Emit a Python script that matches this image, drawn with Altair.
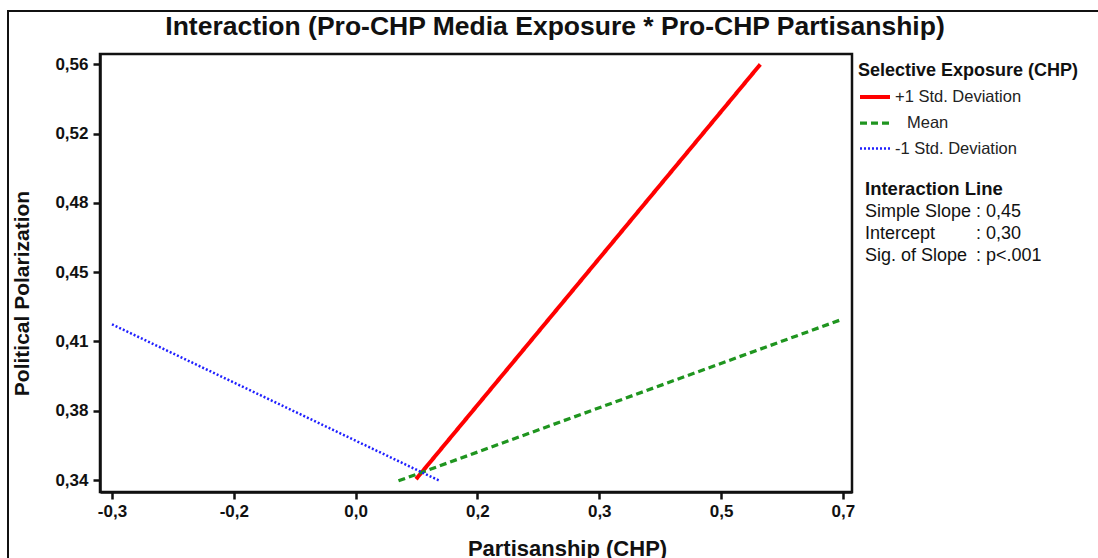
import altair as alt
import pandas as pd

# ---- data ----
series = ["+1 Std. Deviation", "Mean", "-1 Std. Deviation"]
x_start = [0.116, 0.092, -0.300]
x_end = [0.587, 0.700, 0.149]
y_start = [0.3405, 0.3396, 0.4224]
y_end = [0.5599, 0.4252, 0.3395]

x_tick_vals = [-0.3 + k / 6 for k in range(7)]
x_tick_labels = ["-0,3", "-0,2", "0,0", "0,2", "0,3", "0,5", "0,7"]
y_tick_vals = [0.34 + k * 0.22 / 6 for k in range(7)]
y_tick_labels = ["0,34", "0,38", "0,41", "0,45", "0,48", "0,52", "0,56"]

info_keys = ["Simple Slope", "Intercept", "Sig. of Slope"]
info_vals = [": 0,45", ": 0,30", ": p<.001"]

colors = ["#ff0000", "#1f951f", "#2020ff"]
dashes = [[1, 0], [7, 4], [2, 2]]
widths = [4, 2.5, 2.5]

FONT = "Liberation Sans"
W, H = 752, 438


def label_expr(vals, labels):
    expr = "'" + labels[-1] + "'"
    for i in range(len(vals) - 2, -1, -1):
        mid = (vals[i] + vals[i + 1]) / 2
        expr = f"datum.value < {mid} ? '{labels[i]}' : ({expr})"
    return expr


rows = []
for s, x0, x1, y0, y1 in zip(series, x_start, x_end, y_start, y_end):
    rows.append({"series": s, "x": x0, "y": y0})
    rows.append({"series": s, "x": x1, "y": y1})
df = pd.DataFrame(rows)

legend_title = "Selective Exposure (CHP)"
leg_label_expr = "datum.label == 'Mean' ? '\u2800Mean' : datum.label"


def make_legend():
    return alt.Legend(orient="none", legendX=758, legendY=8,
                      symbolType="stroke", symbolSize=900,
                      labelExpr=leg_label_expr)


lines = alt.Chart(df).mark_line(strokeCap="butt").encode(
    x=alt.X("x:Q",
            scale=alt.Scale(domain=[-0.3164, 0.7125], nice=False, zero=False),
            axis=alt.Axis(values=x_tick_vals, labelExpr=label_expr(x_tick_vals, x_tick_labels),
                          title="Partisanship (CHP)", titleX=467, titleY=63,
                          titleBaseline="alphabetic", titleAnchor="middle", grid=False,
                          titleFontSize=22)),
    y=alt.Y("y:Q",
            scale=alt.Scale(domain=[0.3337, 0.5654], nice=False, zero=False),
            axis=alt.Axis(values=y_tick_vals, labelExpr=label_expr(y_tick_vals, y_tick_labels),
                          title="Political Polarization", titleX=-78, titleY=239,
                          titleBaseline="middle", titleAnchor="middle", grid=False)),
    color=alt.Color("series:N", title=legend_title,
                    scale=alt.Scale(domain=series, range=colors),
                    legend=make_legend()),
    strokeDash=alt.StrokeDash("series:N", title=legend_title,
                              scale=alt.Scale(domain=series, range=dashes),
                              legend=make_legend()),
    strokeWidth=alt.StrokeWidth("series:N", title=legend_title,
                                scale=alt.Scale(domain=series, range=widths),
                                legend=make_legend()),
    detail="series:N",
)

title_df = pd.DataFrame({"t": ["Interaction (Pro-CHP Media Exposure * Pro-CHP Partisanship)"]})
title = alt.Chart(title_df).mark_text(font=FONT, fontSize=26.5, fontWeight="bold", color="#111",
                                      align="center", baseline="alphabetic").encode(
    x=alt.value(455), y=alt.value(-19), text="t:N")

head_df = pd.DataFrame({"t": ["Interaction Line"]})
head = alt.Chart(head_df).mark_text(font=FONT, fontSize=18.5, fontWeight="bold", color="#111",
                                    align="left", baseline="alphabetic").encode(
    x=alt.value(765), y=alt.value(141), text="t:N")

info_layers = []
for i, (k, v) in enumerate(zip(info_keys, info_vals)):
    d = pd.DataFrame({"k": [k], "v": [v]})
    yy = 163 + 22 * i
    info_layers.append(
        alt.Chart(d).mark_text(font=FONT, fontSize=18, color="#111",
                               align="left", baseline="alphabetic").encode(
            x=alt.value(765), y=alt.value(yy), text="k:N"))
    info_layers.append(
        alt.Chart(d).mark_text(font=FONT, fontSize=18, color="#111",
                               align="left", baseline="alphabetic").encode(
            x=alt.value(876), y=alt.value(yy), text="v:N"))

frame_df = pd.DataFrame({"a": [0]})
frame = alt.Chart(frame_df).mark_rect(fill="transparent", stroke="#111", strokeWidth=2).encode(
    x=alt.value(-92), x2=alt.value(1100), y=alt.value(-43), y2=alt.value(600))

chart = alt.layer(frame, lines, title, head, *info_layers).properties(
    width=W, height=H,
    autosize=alt.AutoSizeParams(type="none"),
    padding={"left": 100, "top": 54, "right": 246, "bottom": 66},
).configure(
    font=FONT, background="white",
).configure_view(
    stroke="#111", strokeWidth=2.5,
).configure_axis(
    domainColor="#111", domainWidth=2.5, tickColor="#111", tickWidth=2.5, tickSize=7,
    labelFont=FONT, labelFontSize=17, labelFontWeight="bold", labelColor="#111",
    titleFont=FONT, titleFontSize=21, titleFontWeight="bold", titleColor="#111",
    labelPadding=4,
).configure_axisY(
    labelPadding=5,
).configure_legend(
    titleFont=FONT, titleFontSize=18, titleFontWeight="bold", titleColor="#111",
    titleLimit=400, labelLimit=400,
    labelFont=FONT, labelFontSize=16.5, labelColor="#222", titlePadding=0, rowPadding=-4,
    labelOffset=3,
)

chart.save("out.html", embed_options={"renderer": "svg", "actions": False})
